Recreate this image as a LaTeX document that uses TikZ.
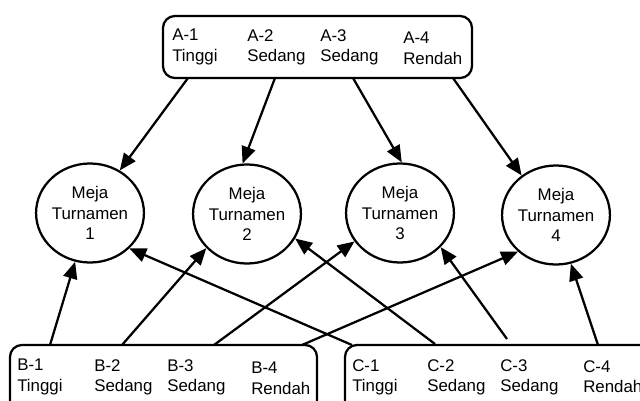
\documentclass[tikz,border=0pt]{standalone}
\usepackage{fontspec}
\setmainfont{Liberation Sans}
\usetikzlibrary{arrows.meta,shapes.geometric}

\begin{document}
\begin{tikzpicture}[x=0.025cm,y=-0.025cm,
   every node/.style={font=\fontsize{12}{14.5}\selectfont},
   grp/.style={draw,line width=1.6pt,rounded corners=0.3cm,minimum height=1.75cm},
   lbl/.style={anchor=north west,inner sep=0pt,align=left},
   meja/.style={draw,ellipse,line width=1.6pt,minimum width=2.65cm,minimum height=2.475cm,align=center,inner sep=0pt},
   arr/.style={-{Triangle[length=12pt,width=10pt]},line width=1.6pt}]
   \useasboundingbox (0,0) rectangle (640,401);
   % kelompok asal
   \node[grp,minimum width=7.725cm,minimum height=1.55cm] (ga) at (317.5,47) {};
   \node[grp,minimum width=7.675cm] (gb) at (163.5,380) {};
   \node[grp,minimum width=7.75cm] (gc) at (500,380) {};
   \node[lbl] (a1) at (172,29) {A-1\\Tinggi};
   \node[lbl] (a2) at (247,29) {A-2\\Sedang};
   \node[lbl] (a3) at (320,29) {A-3\\Sedang};
   \node[lbl] (a4) at (403,32) {A-4\\Rendah};
   \node[lbl] (b1) at (17,359) {B-1\\Tinggi};
   \node[lbl] (b2) at (94,359) {B-2\\Sedang};
   \node[lbl] (b3) at (167,359) {B-3\\Sedang};
   \node[lbl] (b4) at (251,362) {B-4\\Rendah};
   \node[lbl] (c1) at (352,359) {C-1\\Tinggi};
   \node[lbl] (c2) at (427,359) {C-2\\Sedang};
   \node[lbl] (c3) at (500,359) {C-3\\Sedang};
   \node[lbl] (c4) at (583,360) {C-4\\Rendah};
   % meja turnamen
   \node[meja] (m1) at (90,213) {Meja\\Turnamen\\1};
   \node[meja] (m2) at (247,214) {Meja\\Turnamen\\2};
   \node[meja] (m3) at (400,213) {Meja\\Turnamen\\3};
   \node[meja] (m4) at (556,215) {Meja\\Turnamen\\4};
   % titik awal panah
   \coordinate (sa1) at (188,78);
   \coordinate (sa2) at (275,78);
   \coordinate (sa3) at (353,78);
   \coordinate (sa4) at (453,78);
   \coordinate (sb1) at (50,345);
   \coordinate (sb2) at (122,345);
   \coordinate (sb3) at (214,345);
   \coordinate (sb4) at (302,345);
   \coordinate (sc1) at (352,345);
   \coordinate (sc2) at (435,344);
   \coordinate (sc3) at (507,339);
   \coordinate (sc4) at (598,345);
   \draw[arr] (sa1)--(m1.55);
   \draw[arr] (sa2)--(m2.95);
   \draw[arr] (sa3)--(m3.88);
   \draw[arr] (sa4)--(m4.131);
   \draw[arr] (sb1)--(m1.253);
   \draw[arr] (sb2)--(m2.220);
   \draw[arr] (sb3)--(m3.212);
   \draw[arr] (sb4)--(m4.224);
   \draw[arr] (sc1)--(m1.318);
   \draw[arr] (sc2)--(m2.333);
   \draw[arr] (sc3)--(m3.320);
   \draw[arr] (sc4)--(m4.287);
\end{tikzpicture}
\end{document}
